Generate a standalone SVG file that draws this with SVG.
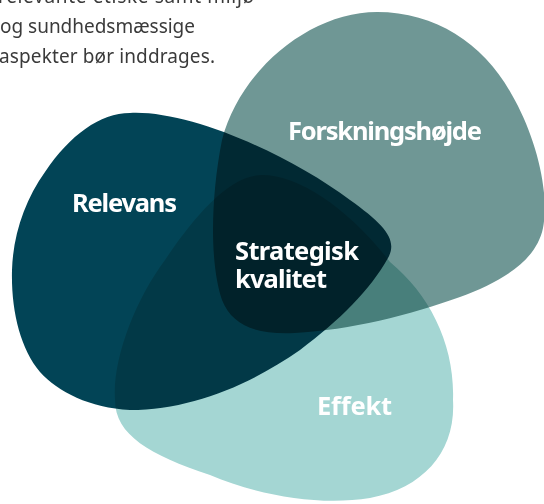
<svg xmlns="http://www.w3.org/2000/svg" width="544" height="504" viewBox="0 0 544 504">
  <style>
    .blob { mix-blend-mode: multiply; }
    .lbl { font-family: "Noto Sans", "Open Sans", "DejaVu Sans", sans-serif; font-weight: 700; font-size: 25.5px; fill: #ffffff; }
    .body { font-family: "Noto Sans", "Open Sans", "DejaVu Sans", sans-serif; font-weight: 400; font-size: 19px; fill: #3a3a3a; }
  </style>
  <rect width="544" height="504" fill="#ffffff"/>
  <g id="intro-text">
    <text class="body" x="-2" y="3" textLength="256">relevante etiske samt miljø</text>
    <text class="body" x="0" y="33" textLength="195">og sundhedsmæssige</text>
    <text class="body" x="-1" y="63" textLength="216">aspekter bør inddrages.</text>
  </g>
  <g id="shapes">
    <path id="effekt-shape" class="blob" fill="#a4d6d3" d="M 262,175 C 300,175 350,210 390,262 C 430,295 455,345 453,400 C 456,450 425,488 370,498 C 320,506 260,496 210,475 C 150,455 115,435 115,400 C 112,360 135,300 165,260 C 195,215 230,175 262,175 Z"/>
    <path id="forskning-shape" class="blob" fill="#6f9795" d="M 377,12 C 437,12 485,45 512,95 C 535,135 550,190 543,228 C 536,262 500,282 460,297 C 410,315 350,330 295,333 C 255,335 232,325 222,300 C 210,265 210,200 222,140 C 240,70 310,12 377,12 Z"/>
    <path id="relevans-shape" class="blob" fill="#024456" d="M 130,113 C 190,110 290,155 350,200 C 385,225 398,240 388,258 C 370,290 340,320 300,350 C 250,385 190,410 130,410 C 90,408 58,392 40,372 C 20,348 11,310 12,270 C 13,235 25,200 45,172 C 70,135 100,113 130,113 Z"/>
  </g>
  <g id="node-forskningshoejde">
    <text class="lbl" x="288" y="140" textLength="194">Forskningshøjde</text>
  </g>
  <g id="node-relevans">
    <text class="lbl" x="72" y="212" textLength="105">Relevans</text>
  </g>
  <g id="node-strategisk-kvalitet">
    <text class="lbl" x="235" y="260" textLength="124">Strategisk</text>
    <text class="lbl" x="235" y="288" textLength="92">kvalitet</text>
  </g>
  <g id="node-effekt">
    <text class="lbl" x="317" y="415" textLength="75">Effekt</text>
  </g>
</svg>
